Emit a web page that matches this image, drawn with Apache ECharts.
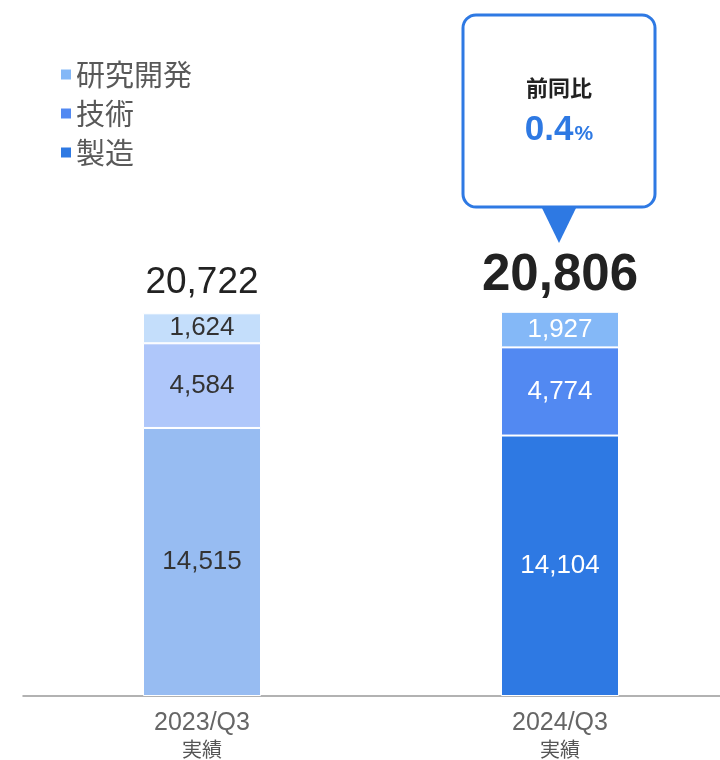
<!DOCTYPE html>
<html><head><meta charset="utf-8">
<script src="https://cdn.jsdelivr.net/npm/echarts@6/dist/echarts.min.js"></script>
<style>html,body{margin:0;padding:0;background:#fff}#c{width:720px;height:760px}</style>
</head><body><div id="c"></div>
<script>
const categories = ['2023/Q3\n実績', '2024/Q3\n実績'];
const seriesNames = ['製造', '技術', '研究開発'];
const manufacturing = [14515, 14104];
const technology = [4584, 4774];
const research = [1624, 1927];
const totals = [20722, 20806];
const yoyText = '0.4';

const FONT = '"Liberation Sans", Arial, "Noto Sans CJK JP", sans-serif';
const JP = '"Noto Sans CJK JP", "Liberation Sans", sans-serif';
const colors2023 = ['#97BCF2', '#AFC7FA', '#C4DEFB'];
const colors2024 = ['#2E79E3', '#5289F2', '#84B8F7'];
const labelColors = ['#333333', '#ffffff'];
const fmt = v => v.toLocaleString('en-US');

const valueArrays = [manufacturing, technology, research];
const barSeries = seriesNames.map((name, si) => ({
  name, type: 'bar', stack: 'total', barWidth: 118,
  itemStyle: { color: colors2024[si], borderColor: '#fff', borderWidth: 1 },
  data: valueArrays[si].map((v, ci) => ({
    value: v,
    itemStyle: { color: ci === 0 ? colors2023[si] : colors2024[si] },
    label: { color: labelColors[ci] }
  })),
  label: { show: true, position: 'inside', fontSize: 26, fontFamily: FONT, formatter: p => fmt(p.value) }
}));

const chart = echarts.init(document.getElementById('c'));
chart.setOption({
  animation: false,
  backgroundColor: '#fff',
  color: colors2024,
  legend: {
    data: ['研究開発', '技術', '製造'],
    orient: 'vertical', left: 56, top: 55, itemGap: 10, itemWidth: 10, itemHeight: 10,
    icon: 'rect',
    itemStyle: { borderWidth: 0 },
    textStyle: { fontSize: 29, color: '#595959', fontFamily: JP },
    selectedMode: false
  },
  grid: { left: 23, right: -19, top: 142, bottom: 64, outerBoundsMode: 'none', containLabel: false },
  xAxis: {
    type: 'category', data: categories,
    axisLine: { lineStyle: { color: '#999', width: 1.5 } },
    axisTick: { show: false },
    axisLabel: {
      margin: 14, color: '#666', fontFamily: JP,
      formatter: v => { const [a, b] = v.split('\n'); return '{a|' + a + '}\n{b|' + b + '}'; },
      rich: {
        a: { fontSize: 25, color: '#666', fontFamily: FONT, lineHeight: 26 },
        b: { fontSize: 20, color: '#555', fontFamily: JP, lineHeight: 26 }
      }
    }
  },
  yAxis: { type: 'value', min: 0, max: 30000, show: false, splitLine: { show: false } },
  series: [
    ...barSeries,
    {
      type: 'scatter', symbolSize: 0, silent: true, z: 10,
      itemStyle: { opacity: 1 },
      data: totals.map((t, i) => ({
        value: [i, t],
        label: i === 0
          ? { show: true, position: 'top', distance: 12, fontSize: 37, color: '#222', opacity: 1, fontFamily: FONT, formatter: fmt(t) }
          : { show: true, position: 'top', distance: 10, fontSize: 51, fontWeight: 'bold', color: '#222', opacity: 1, fontFamily: FONT, formatter: fmt(t) }
      }))
    }
  ]
});

// callout above the 2024 bar
const cx = chart.convertToPixel({ gridIndex: 0 }, [1, 0])[0] - 1;
const boxW = 192, boxH = 192, boxTop = 15;
chart.setOption({
  graphic: [
    {
      type: 'rect', z: 20,
      shape: { x: cx - boxW / 2, y: boxTop, width: boxW, height: boxH, r: 13 },
      style: { fill: '#fff', stroke: '#2E79E3', lineWidth: 3 }
    },
    {
      type: 'polygon', z: 21,
      shape: { points: [[cx - 18, boxTop + boxH - 1], [cx + 18, boxTop + boxH - 1], [cx, boxTop + boxH + 36]] },
      style: { fill: '#2E79E3' }
    },
    {
      type: 'text', z: 22,
      style: { text: '前同比', x: cx, y: 88, align: 'center', verticalAlign: 'middle',
        fontSize: 22, fontWeight: 'bold', fontFamily: JP, fill: '#222' }
    },
    {
      type: 'text', z: 22,
      style: {
        text: '{n|' + yoyText + '}{p|%}', x: cx, y: 130, align: 'center', verticalAlign: 'middle',
        rich: {
          n: { fontSize: 35, fontWeight: 'bold', fontFamily: FONT, fill: '#2E79E3' },
          p: { fontSize: 21, fontWeight: 'bold', fontFamily: FONT, fill: '#2E79E3', padding: [8, 0, 0, 1] }
        }
      }
    }
  ]
});
</script></body></html>
